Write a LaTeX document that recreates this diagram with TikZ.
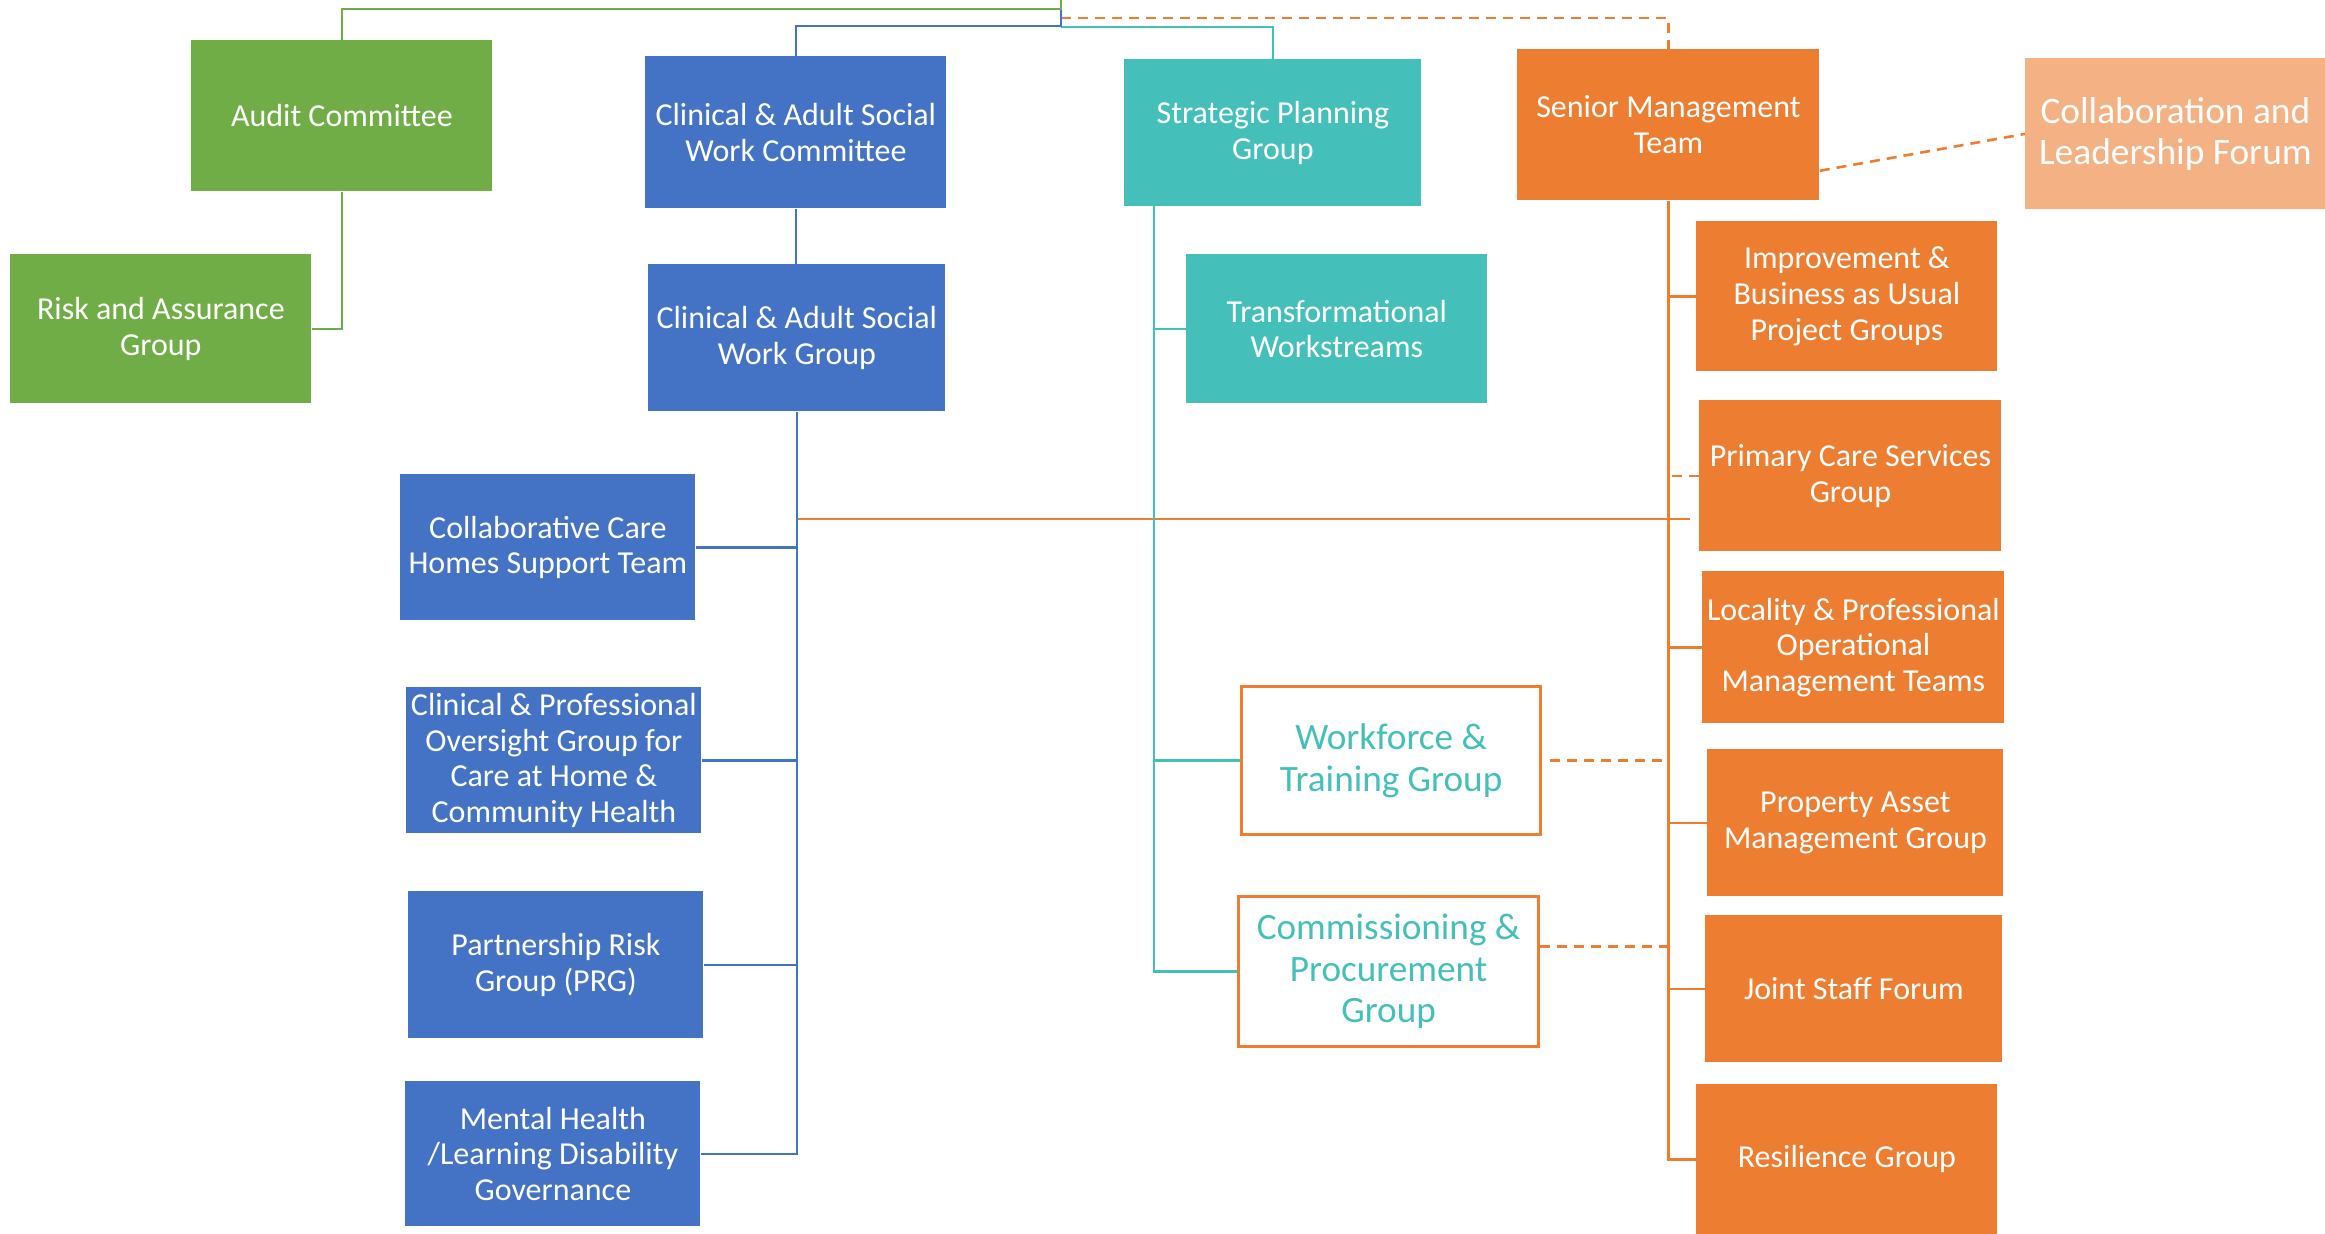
\documentclass[tikz,border=0pt]{standalone}
\usepackage{fontspec}
\setmainfont{Carlito}
\definecolor{cg}{HTML}{70AD47}
\definecolor{cb}{HTML}{4472C4}
\definecolor{ct}{HTML}{45BFB9}
\definecolor{co}{HTML}{ED7D31}
\definecolor{cl}{HTML}{F4B183}
\tikzset{
  base/.style={rectangle, anchor=north west, inner sep=2pt, align=center, text=white, font=\fontsize{16}{17.8}\selectfont},
  sz/.style 2 args={minimum width=#1*0.5pt, minimum height=#2*0.5pt},
  gbox/.style={base, fill=cg},
  bbox/.style={base, fill=cb},
  tbox/.style={base, fill=ct},
  obox/.style={base, fill=co},
  lbox/.style={base, fill=cl, font=\fontsize{18.7}{20.8}\selectfont},
  wbox/.style={base, fill=white, draw=co, line width=1.6pt, text=ct, font=\fontsize{18.6}{20.8}\selectfont},
  gline/.style={draw=cg, line width=1.3pt},
  bline/.style={draw=cb, line width=1.3pt},
  tline/.style={draw=ct, line width=1.3pt},
  oline/.style={draw=co, line width=1.3pt},
  odash/.style={draw=co, line width=1.3pt, dash pattern=on 5pt off 3.5pt},
}
\begin{document}
\begin{tikzpicture}[x=0.5pt, y=-0.5pt]
\useasboundingbox (0,0) rectangle (2325,1234);
% boxes
\node[gbox, sz={301}{151}] (audit) at (191,40) {Audit Committee};
\node[gbox, sz={301}{149}] (risk) at (10,254) {Risk and Assurance\\Group};
\node[bbox, sz={301}{152}] (caswc) at (645,56) {Clinical \& Adult Social\\Work Committee};
\node[bbox, sz={297}{147}] (caswg) at (648,264) {Clinical \& Adult Social\\Work Group};
\node[tbox, sz={297}{147}] (spg) at (1124,59) {Strategic Planning\\Group};
\node[obox, sz={302}{151}] (smt) at (1517,49) {Senior Management\\Team};
\node[lbox, sz={300}{151}] (clf) at (2025,58) {Collaboration and\\Leadership Forum};
\node[tbox, sz={301}{149}] (trans) at (1186,254) {Transformational\\Workstreams};
\node[obox, sz={301}{150}] (improv) at (1696,221) {Improvement \&\\Business as Usual\\Project Groups};
\node[obox, sz={302}{151}] (primary) at (1699,400) {Primary Care Services\\Group};
\node[obox, sz={302}{152}] (locality) at (1702,571) {Locality \& Professional\\Operational\\Management Teams};
\node[obox, sz={296}{147}] (property) at (1707,749) {Property Asset\\Management Group};
\node[obox, sz={297}{147}] (joint) at (1705,915) {Joint Staff Forum};
\node[obox, sz={301}{150}] (resil) at (1696,1084) {Resilience Group};
\node[wbox, sz={299}{148}] (workforce) at (1240,685) {Workforce \&\\Training Group};
\node[wbox, sz={300}{150}] (commiss) at (1237,895) {Commissioning \&\\Procurement\\Group};
\node[bbox, sz={295}{146}] (cchst) at (400,474) {Collaborative Care\\Homes Support Team};
\node[bbox, sz={295}{146}] (cpog) at (406,687) {Clinical \& Professional\\Oversight Group for\\Care at Home \&\\Community Health};
\node[bbox, sz={295}{147}] (prg) at (408,891) {Partnership Risk\\Group (PRG)};
\node[bbox, sz={295}{145}] (mhld) at (405,1081) {Mental Health\\/Learning Disability\\Governance};
% junction coordinates
\coordinate (top) at (1061,0);
\coordinate (gj) at (1061,9);
\coordinate (oj) at (1061,18);
\coordinate (bj) at (1061,26);
\coordinate (tj) at (1061,27);
\coordinate (ts) at (1154,206);
\coordinate (oh) at (0,519);
% top connectors
\draw[odash] (oj) -| (smt.north);
\draw[tline] (tj) -| (spg.north);
\draw[bline] (gj) -- (bj) -| (caswc.north);
\draw[gline] (top) -- (gj) -| (audit.north);
\draw[gline] (audit.south) |- (risk.east);
% blue tree
\draw[bline] (caswc.south) -- (caswc.south |- caswg.north);
\draw[oline] (caswg.south |- oh) -- ([xshift=-4.5pt]primary.west |- oh);
\draw[bline] (caswg.south) |- (mhld.east);
\draw[bline] (cchst.east) -- (cchst.east -| caswg.south);
\draw[bline] (cpog.east) -- (cpog.east -| caswg.south);
\draw[bline] (prg.east) -- (prg.east -| caswg.south);
% teal tree
\draw[tline] (ts) |- (commiss.west);
\draw[tline] (trans.west) -- (trans.west -| ts);
\draw[tline] (workforce.west) -- (workforce.west -| ts);
% orange tree
\draw[odash] ([yshift=15pt]smt.south east) -- (clf.west);
\draw[oline] (smt.south) |- (resil.west);
\draw[oline] (improv.west) -- (improv.west -| smt.south);
\draw[odash] (primary.west) -- (primary.west -| smt.south);
\draw[oline] (locality.west) -- (locality.west -| smt.south);
\draw[oline] (property.west) -- (property.west -| smt.south);
\draw[oline] (joint.west) -- (joint.west -| smt.south);
\draw[odash] ([xshift=4pt]workforce.east) -- (workforce.east -| smt.south);
\draw[odash] ([yshift=12.5pt]commiss.east) -- ([yshift=12.5pt]commiss.east -| smt.south);
\end{tikzpicture}
\end{document}
